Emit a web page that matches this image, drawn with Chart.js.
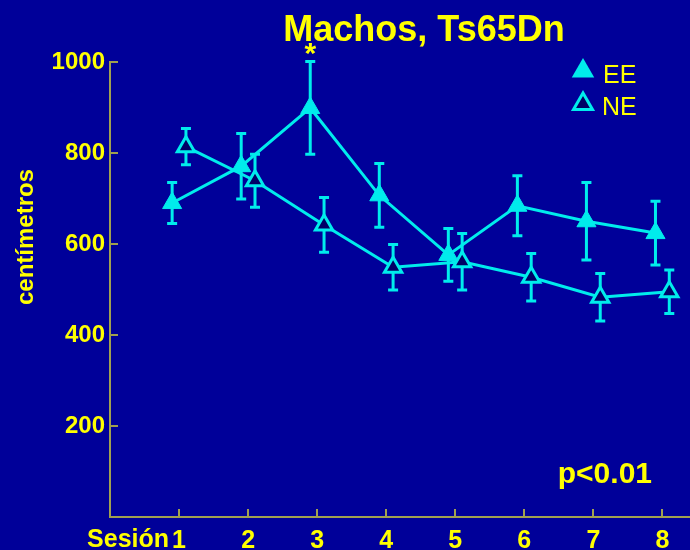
<!DOCTYPE html>
<html>
<head>
<meta charset="utf-8">
<script src="https://cdn.jsdelivr.net/npm/chart.js@4/dist/chart.umd.min.js"></script>
<style>
  html, body { margin: 0; padding: 0; background: #000099; }
  #wrap { width: 690px; height: 550px; }
</style>
</head>
<body>
<div id="wrap"><canvas id="walkChart" width="690" height="550"></canvas></div>
<script>
// sessions and group means (cm) with error bars
const sessions = [1, 2, 3, 4, 5, 6, 7, 8];
const eeMean = [690, 771, 899, 707, 576, 684, 650, 624];
const eeErr = [45, 72, 102, 70, 58, 66, 85, 70];
const neMean = [814, 739, 642, 549, 561, 527, 483, 495];
const neErr = [40, 58, 60, 50, 62, 52, 52, 48];
const yTicks = [200, 400, 600, 800, 1000];

const bg = '#000099';
const cyan = '#00ecec';
const yellow = '#ffff00';
const axisColor = '#a0a050';
const font = '"Liberation Sans", Arial, sans-serif';
const shift = 0.1;

const eePoints = sessions.map((s, i) => ({ x: s - shift, y: eeMean[i] }));
const nePoints = sessions.map((s, i) => ({ x: s + shift, y: neMean[i] }));

const errorBars = {
    id: 'errorBars',
    beforeDatasetsDraw(chart) {
        const ctx = chart.ctx;
        const xs = chart.scales.x, ys = chart.scales.y;
        ctx.save();
        ctx.strokeStyle = cyan;
        ctx.lineWidth = 3;
        const groups = [[eePoints, eeErr], [nePoints, neErr]];
        groups.forEach(([pts, err]) => {
            pts.forEach((p, i) => {
                const x = xs.getPixelForValue(p.x);
                const top = ys.getPixelForValue(p.y + err[i]);
                const bot = ys.getPixelForValue(p.y - err[i]);
                ctx.beginPath();
                ctx.moveTo(x, top); ctx.lineTo(x, bot);
                ctx.moveTo(x - 5, top); ctx.lineTo(x + 5, top);
                ctx.moveTo(x - 5, bot); ctx.lineTo(x + 5, bot);
                ctx.stroke();
            });
        });
        ctx.restore();
    }
};

const decor = {
    id: 'decor',
    beforeDraw(chart) {
        const ctx = chart.ctx;
        ctx.save();
        ctx.fillStyle = bg;
        ctx.fillRect(0, 0, chart.width, chart.height);
        ctx.restore();
    },
    afterDraw(chart) {
        const ctx = chart.ctx;
        const xs = chart.scales.x, ys = chart.scales.y;
        const area = chart.chartArea;
        ctx.save();

        // inward tick marks
        ctx.strokeStyle = axisColor;
        ctx.lineWidth = 2;
        ctx.beginPath();
        yTicks.forEach(v => {
            const y = Math.round(ys.getPixelForValue(v));
            ctx.moveTo(area.left, y); ctx.lineTo(area.left + 8, y);
        });
        sessions.forEach(s => {
            const x = Math.round(xs.getPixelForValue(s));
            ctx.moveTo(x, area.bottom); ctx.lineTo(x, area.bottom - 8);
        });
        ctx.stroke();

        ctx.fillStyle = yellow;
        ctx.textBaseline = 'alphabetic';

        // title
        ctx.font = 'bold 36px ' + font;
        ctx.textAlign = 'center';
        ctx.fillText('Machos, Ts65Dn', 424, 41);

        // significance mark over session 3
        ctx.font = 'bold 30px ' + font;
        ctx.fillText('*', xs.getPixelForValue(3 - shift), ys.getPixelForValue(eeMean[2] + eeErr[2]) + 1);

        // y axis title
        ctx.save();
        ctx.translate(33, 237);
        ctx.rotate(-Math.PI / 2);
        ctx.font = 'bold 24px ' + font;
        ctx.fillText('centímetros', 0, 0);
        ctx.restore();

        // "Sesión" before the first tick label
        ctx.font = 'bold 25px ' + font;
        ctx.textAlign = 'right';
        ctx.fillText('Sesión', xs.getPixelForValue(1) - 10, 547);

        // p value
        ctx.font = 'bold 30px ' + font;
        ctx.fillText('p<0.01', 652, 483);

        // legend
        const H = Chart.helpers;
        ctx.fillStyle = cyan;
        ctx.strokeStyle = cyan;
        H.drawPoint(ctx, { pointStyle: 'triangle', radius: 13, rotation: 0, borderWidth: 0 }, 583, 71);
        ctx.fillStyle = '#000066';
        ctx.lineWidth = 3;
        H.drawPoint(ctx, { pointStyle: 'triangle', radius: 11, rotation: 0, borderWidth: 3 }, 583, 104);
        ctx.fillStyle = yellow;
        ctx.textAlign = 'left';
        ctx.font = '25px ' + font;
        ctx.fillText('EE', 603, 83);
        ctx.fillText('NE', 602, 115);

        ctx.restore();
    }
};

new Chart(document.getElementById('walkChart'), {
    type: 'line',
    data: {
        datasets: [
            {
                label: 'EE',
                data: eePoints,
                borderColor: cyan,
                borderWidth: 3,
                pointStyle: 'triangle',
                pointRadius: 11,
                pointBackgroundColor: cyan,
                pointBorderColor: cyan,
                pointBorderWidth: 1,
                clip: false
            },
            {
                label: 'NE',
                data: nePoints,
                borderColor: cyan,
                borderWidth: 3,
                pointStyle: 'triangle',
                pointRadius: 10,
                pointBackgroundColor: '#000066',
                pointBorderColor: cyan,
                pointBorderWidth: 3,
                clip: false
            }
        ]
    },
    options: {
        responsive: false,
        animation: false,
        layout: { padding: { top: 62, left: 0, right: 0, bottom: 0 }, autoPadding: false },
        plugins: { legend: { display: false }, tooltip: { enabled: false } },
        scales: {
            x: {
                type: 'linear',
                min: 0,
                max: 8.4,
                afterBuildTicks(scale) { scale.ticks = sessions.map(v => ({ value: v })); },
                afterFit(scale) { scale.height = 33; scale.paddingLeft = 0; scale.paddingRight = 0; },
                grid: { display: false, drawTicks: false },
                border: { display: true, color: axisColor, width: 2 },
                ticks: {
                    color: yellow,
                    padding: 9,
                    maxRotation: 0,
                    autoSkip: false,
                    font: { family: font, size: 25, weight: 'bold' },
                    callback: v => String(v)
                }
            },
            y: {
                min: 0,
                max: 1000,
                afterBuildTicks(scale) { scale.ticks = yTicks.map(v => ({ value: v })); },
                afterFit(scale) { scale.width = 110; },
                grid: { display: false, drawTicks: false },
                border: { display: true, color: axisColor, width: 2 },
                ticks: {
                    color: yellow,
                    padding: 5,
                    font: { family: font, size: 24, weight: 'bold' },
                    callback: v => String(v)
                }
            }
        }
    },
    plugins: [errorBars, decor]
});
</script>
</body>
</html>
